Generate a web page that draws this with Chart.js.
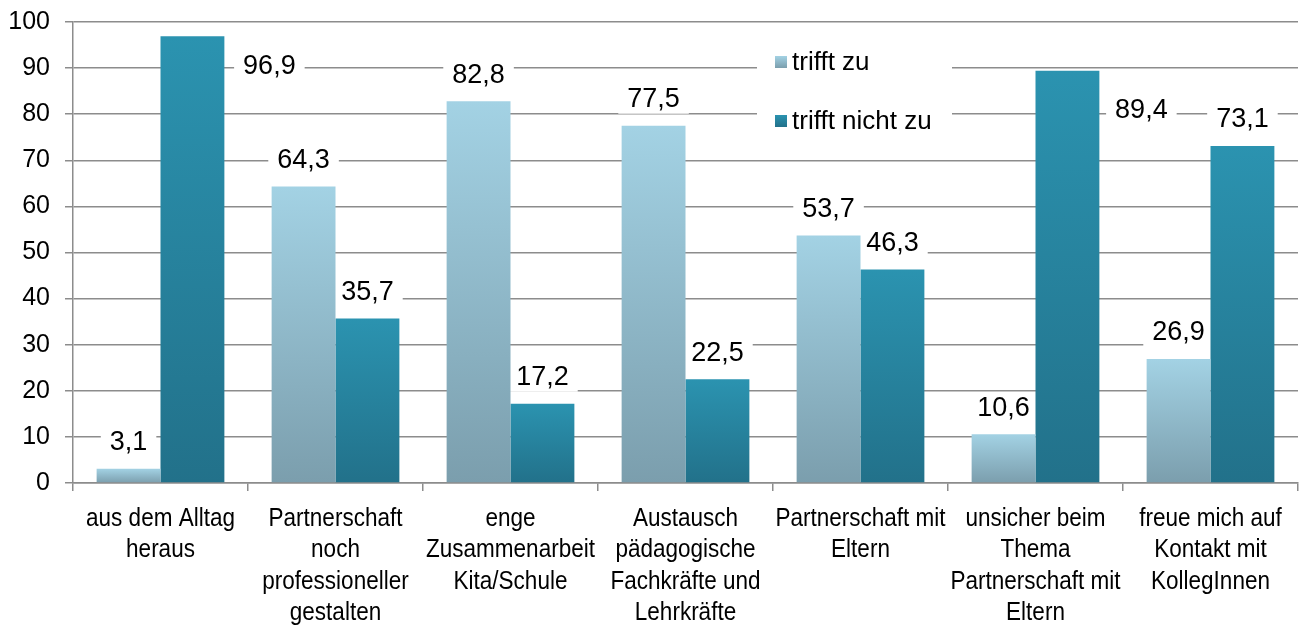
<!DOCTYPE html>
<html><head><meta charset="utf-8">
<script src="https://cdn.jsdelivr.net/npm/chart.js@4.4.0/dist/chart.umd.min.js"></script>
<style>html,body{margin:0;padding:0;background:#fff;}#wrap{width:1299px;height:627px;}</style>
</head><body><div id="wrap"><canvas id="c" width="1299" height="627"></canvas></div>
<script>
const categories = [
  ["aus dem Alltag", "heraus"],
  ["Partnerschaft", "noch", "professioneller", "gestalten"],
  ["enge", "Zusammenarbeit", "Kita/Schule"],
  ["Austausch", "pädagogische", "Fachkräfte und", "Lehrkräfte"],
  ["Partnerschaft mit", "Eltern"],
  ["unsicher beim", "Thema", "Partnerschaft mit", "Eltern"],
  ["freue mich auf", "Kontakt mit", "KollegInnen"]
];
const seriesNames = ["trifft zu", "trifft nicht zu"];
const trifftZu = [3.1, 64.3, 82.8, 77.5, 53.7, 10.6, 26.9];
const trifftNichtZu = [96.9, 35.7, 17.2, 22.5, 46.3, 89.4, 73.1];
const yTicks = [0, 10, 20, 30, 40, 50, 60, 70, 80, 90, 100];

const palette = [
  ['#a3d2e4', '#7b9ead'],
  ['#2b93b0', '#22718a']
];
const gridColor = '#8c8c8c';
const FONT = '"Liberation Sans", Arial, sans-serif';
// labels that sit beside their bar instead of above it (offsets from bar's right edge / top)
const sideLabels = { '1-0': { dx: 45, dy: 29 }, '1-5': { dx: 42, dy: 39 } };

function gradFor(di) {
  return (c) => {
    const chart = c.chart;
    if (!chart.chartArea || c.raw == null) return palette[di][0];
    const y = chart.scales.y;
    const top = y.getPixelForValue(c.raw), bot = y.getPixelForValue(0);
    const g = chart.ctx.createLinearGradient(0, top, 0, Math.max(bot, top + 1));
    g.addColorStop(0, palette[di][0]);
    g.addColorStop(1, palette[di][1]);
    return g;
  };
}

function fmt(v) { return v.toFixed(1).replace('.', ','); }

function labelBoxes(chart, cb) {
  const ctx = chart.ctx;
  ctx.font = '27px ' + FONT;
  chart.data.datasets.forEach((ds, di) => {
    const meta = chart.getDatasetMeta(di);
    meta.data.forEach((el, i) => {
      const v = ds.data[i];
      let x = el.x, y = el.y - 27;
      const s = sideLabels[di + '-' + i];
      if (s) { x = el.x + el.width / 2 + s.dx; y = el.y + s.dy; }
      const txt = fmt(v);
      cb(ctx, txt, x, y, ctx.measureText(txt).width);
    });
  });
}

const labelPlugin = {
  id: 'valueLabels',
  beforeDatasetsDraw(chart) {
    const ctx = chart.ctx;
    ctx.save();
    labelBoxes(chart, (ctx, txt, x, y, tw) => {
      const w = tw + 18;
      ctx.fillStyle = '#fff';
      ctx.fillRect(x - w / 2, y - 15, w, 30);
    });
    ctx.restore();
  },
  afterDatasetsDraw(chart) {
    const ctx = chart.ctx;
    ctx.save();
    ctx.textAlign = 'center';
    ctx.textBaseline = 'middle';
    labelBoxes(chart, (ctx, txt, x, y) => {
      ctx.fillStyle = '#000';
      ctx.fillText(txt, x, y + 1);
    });
    ctx.restore();
  }
};

const catLabelPlugin = {
  id: 'catLabels',
  afterDraw(chart) {
    const ctx = chart.ctx;
    const xs = chart.scales.x;
    ctx.save();
    ctx.font = '25px ' + FONT;
    ctx.fillStyle = '#000';
    ctx.textAlign = 'center';
    ctx.textBaseline = 'middle';
    const y0 = chart.chartArea.bottom + 36, lh = 31.5;
    categories.forEach((lines, i) => {
      const x = xs.getPixelForValue(i);
      lines.forEach((t, k) => {
        ctx.save();
        ctx.translate(x, y0 + k * lh);
        ctx.scale(0.9, 1);
        ctx.fillText(t, 0, 0);
        ctx.restore();
      });
    });
    ctx.restore();
  }
};

const legendPlugin = {
  id: 'innerLegend',
  afterDraw(chart) {
    const ctx = chart.ctx;
    ctx.save();
    ctx.fillStyle = '#fff';
    ctx.fillRect(757, 40, 195, 102);
    ctx.font = '26px ' + FONT;
    ctx.textBaseline = 'middle';
    ctx.textAlign = 'left';
    const rows = [62, 121];
    seriesNames.forEach((n, i) => {
      const yy = rows[i];
      const g = ctx.createLinearGradient(0, yy - 6, 0, yy + 6);
      g.addColorStop(0, palette[i][0]);
      g.addColorStop(1, palette[i][1]);
      ctx.fillStyle = g;
      ctx.fillRect(775, yy - 6, 12, 12);
      ctx.fillStyle = '#000';
      ctx.fillText(n, 792, yy + 1);
    });
    ctx.restore();
  }
};

new Chart(document.getElementById('c'), {
  type: 'bar',
  data: {
    labels: categories.map(l => l.join(' ')),
    datasets: [
      { label: seriesNames[0], data: trifftZu, backgroundColor: gradFor(0), categoryPercentage: 0.73, barPercentage: 1.0, borderWidth: 0 },
      { label: seriesNames[1], data: trifftNichtZu, backgroundColor: gradFor(1), categoryPercentage: 0.73, barPercentage: 1.0, borderWidth: 0 }
    ]
  },
  options: {
    responsive: false,
    animation: false,
    devicePixelRatio: 1,
    layout: { padding: { top: 22, right: 1, left: 0, bottom: 0 } },
    plugins: { legend: { display: false }, tooltip: { enabled: false } },
    scales: {
      x: {
        grid: { display: true, drawOnChartArea: false, drawTicks: true, tickLength: 8, color: gridColor, lineWidth: 1.5, offset: true },
        border: { display: true, color: gridColor, width: 1.5 },
        ticks: { display: false, autoSkip: false, maxRotation: 0 },
        afterFit(s) { s.height = 144; }
      },
      y: {
        min: 0, max: 100,
        afterBuildTicks(s) { s.ticks = yTicks.map(v => ({ value: v })); },
        grid: { color: gridColor, lineWidth: 1.5, tickLength: 8 },
        border: { display: true, color: gridColor, width: 1.5 },
        ticks: { color: '#000', font: { family: FONT, size: 25 }, padding: 15 },
        afterFit(s) { s.width = 73; s.paddingTop = 0; s.paddingBottom = 0; }
      }
    }
  },
  plugins: [labelPlugin, catLabelPlugin, legendPlugin]
});
</script></body></html>
